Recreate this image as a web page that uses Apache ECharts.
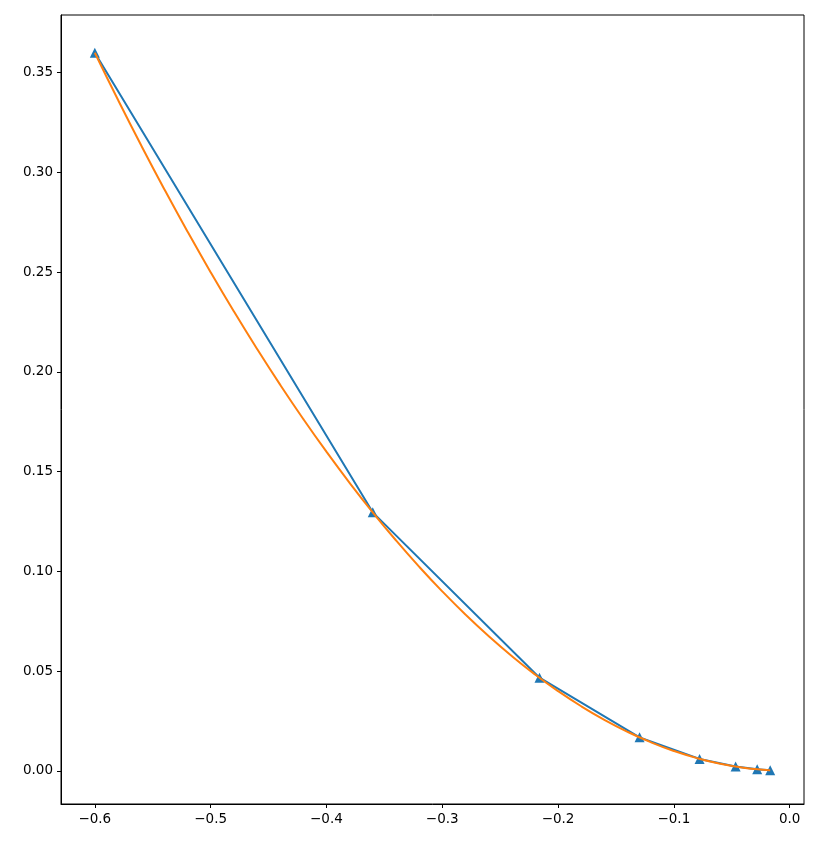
<!DOCTYPE html>
<html>
<head>
<meta charset="utf-8">
<script src="https://cdn.jsdelivr.net/npm/echarts@6/dist/echarts.min.js"></script>
<style>
    html, body { margin: 0; padding: 0; background: #fff; }
    #chart { width: 837px; height: 845px; }
</style>
</head>
<body>
<div id="chart"></div>
<script>
// sample points (blue, triangles)
const pointX = [-0.6, -0.36, -0.216, -0.1296, -0.07776, -0.046656, -0.028, -0.0168]
const pointY = [0.36, 0.1296, 0.0467, 0.0168, 0.0060, 0.0022, 0.0008, 0.0003]

// smooth fitted curve (orange)
const curveX = [-0.60, -0.58, -0.56, -0.54, -0.52, -0.50, -0.48, -0.46, -0.44, -0.42, -0.40,
    -0.38, -0.36, -0.34, -0.32, -0.30, -0.28, -0.26, -0.24, -0.22, -0.20, -0.18, -0.16,
    -0.14, -0.12, -0.10, -0.08, -0.06, -0.04, -0.02, -0.0168]
const curveY = [0.3600, 0.3364, 0.3136, 0.2916, 0.2704, 0.2500, 0.2304, 0.2116, 0.1936, 0.1764, 0.1600,
    0.1444, 0.1296, 0.1156, 0.1024, 0.0900, 0.0784, 0.0676, 0.0576, 0.0484, 0.0400, 0.0324, 0.0256,
    0.0196, 0.0144, 0.0100, 0.0064, 0.0036, 0.0016, 0.0004, 0.0003]

// tick labels
const xTicks = [-0.6, -0.5, -0.4, -0.3, -0.2, -0.1, 0.0]
const yTicks = [0.00, 0.05, 0.10, 0.15, 0.20, 0.25, 0.30, 0.35]

const zip = (xs, ys) => xs.map((x, i) => [x, ys[i]])
const font = { fontFamily: 'DejaVu Sans', fontSize: 13.5, color: '#000' }

const chart = echarts.init(document.getElementById('chart'))
chart.setOption({
    animation: false,
    grid: {
        left: 61, right: 33, top: 15, bottom: 41,
        show: true, borderColor: '#000', borderWidth: 1, backgroundColor: 'transparent'
    },
    xAxis: {
        type: 'value',
        min: -0.6292, max: 0.0124,
        axisLine: { show: true, onZero: false, lineStyle: { color: '#000', width: 1 } },
        axisTick: { show: true, length: 4, customValues: xTicks, lineStyle: { color: '#000' } },
        axisLabel: {
            ...font, margin: 8, customValues: xTicks,
            formatter: v => (v < 0 ? '\u2212' : '') + Math.abs(v).toFixed(1)
        },
        splitLine: { show: false }
    },
    yAxis: {
        type: 'value',
        min: -0.0166, max: 0.3789,
        axisLine: { show: true, onZero: false, lineStyle: { color: '#000', width: 1 } },
        axisTick: { show: true, length: 4, customValues: yTicks, lineStyle: { color: '#000' } },
        axisLabel: {
            ...font, margin: 8, customValues: yTicks,
            formatter: v => v.toFixed(2)
        },
        splitLine: { show: false }
    },
    series: [
        {
            type: 'line',
            data: zip(pointX, pointY),
            symbol: 'triangle',
            symbolSize: 10,
            showAllSymbol: true,
            itemStyle: { color: '#1f77b4' },
            lineStyle: { color: '#1f77b4', width: 2 },
            z: 2
        },
        {
            type: 'line',
            data: zip(curveX, curveY),
            smooth: true,
            symbol: 'none',
            lineStyle: { color: '#ff7f0e', width: 2 },
            z: 3
        }
    ]
})
</script>
</body>
</html>
